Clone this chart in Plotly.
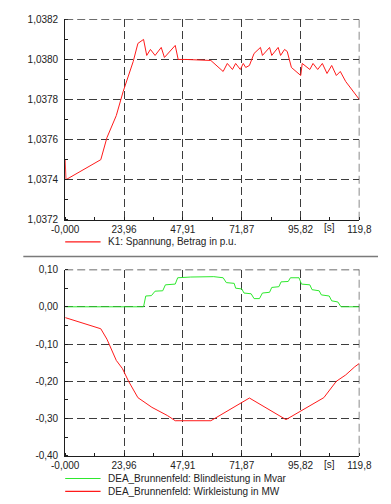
import plotly.graph_objects as go

W, H = 391, 504

# Time axis (seconds)
x_max = 119.775
x_tickvals = [0, 23.955, 47.91, 71.865, 95.82, 119.775]
x_ticktext = ["-0,000", "23,96", "47,91", "71,87", "95,82", "119,8"]

# K1 voltage magnitude (p.u.)
t_volt = [0, 0.3, 14.5, 17.0, 20.8, 23.6, 27.7, 29.6, 31.9, 33.2, 34.7, 36.6,
          39.1, 40.4, 44.8, 46.0, 49.2, 59.3, 64.3, 66.0, 68.1, 69.4, 71.3,
          72.5, 73.5, 75.0, 76.9, 79.5, 80.3, 83.2, 84.1, 86.7, 87.7, 89.3,
          90.4, 92.1, 95.9, 96.5, 99.6, 100.9, 102.8, 104.7, 106.6, 108.5,
          110.4, 112.0, 114.2, 119.775]
v_volt = [1.03750, 1.03740, 1.03750, 1.03761, 1.03772, 1.03784, 1.03799,
          1.03808, 1.03810, 1.03802, 1.03805, 1.03802, 1.03806, 1.03801,
          1.03807, 1.03800, 1.03800, 1.037995, 1.03794, 1.03798, 1.03795,
          1.03798, 1.03795, 1.03798, 1.03796, 1.03797, 1.03803, 1.03806,
          1.03802, 1.03806, 1.03802, 1.03806, 1.03802, 1.03805, 1.03804,
          1.03796, 1.03792, 1.03798, 1.03795, 1.03798, 1.03795, 1.03798,
          1.03793, 1.03797, 1.03792, 1.03794, 1.03789, 1.03780]
volt_ticks = [1.0372, 1.0374, 1.0376, 1.0378, 1.0380, 1.0382]
volt_ticktext = ["1,0372", "1,0374", "1,0376", "1,0378", "1,0380", "1,0382"]

# DEA_Brunnenfeld reactive power (Mvar)
t_q = [0, 31.9, 32.8, 35.1, 36.6, 39.7, 40.8, 44.8, 45.8, 51.1, 60.5, 64.3,
       65.6, 68.8, 69.4, 71.9, 72.8, 75.7, 76.9, 79.1, 80.3, 83.2, 84.1,
       87.0, 87.9, 90.8, 91.7, 95.2, 96.2, 99.6, 100.5, 103.4, 104.3, 107.5,
       108.5, 111.0, 112.3, 119.775]
q_mvar = [0, 0, 0.029, 0.030, 0.042, 0.043, 0.059, 0.061, 0.078, 0.080,
          0.081, 0.078, 0.065, 0.063, 0.050, 0.048, 0.037, 0.035, 0.022,
          0.022, 0.037, 0.039, 0.052, 0.054, 0.067, 0.068, 0.078, 0.078,
          0.061, 0.059, 0.046, 0.043, 0.032, 0.029, 0.016, 0.013, 0.0, 0.0]

# DEA_Brunnenfeld active power (MW)
t_p = [0, 14.5, 17.0, 20.8, 23.3, 25.8, 29.6, 35.3, 41.6, 44.8, 59.3, 75.0,
       89.9, 95.2, 105.3, 110.4, 114.2, 117.9, 119.775]
p_mw = [-0.029, -0.059, -0.087, -0.144, -0.166, -0.200, -0.244, -0.270,
        -0.292, -0.306, -0.306, -0.245, -0.303, -0.283, -0.244, -0.200,
        -0.183, -0.161, -0.152]
pw_ticks = [-0.4, -0.3, -0.2, -0.1, 0.0, 0.1]
pw_ticktext = ["-0,40", "-0,30", "-0,20", "-0,10", "0,00", "0,10"]

RED = "#ff1a1a"
GREEN = "#2ee82e"
GRID = "#3c3c3c"
AXIS = "#1e1e1e"
TXT = "#222222"
FONT = "Liberation Sans, Arial, sans-serif"


def px_x(p):
    return p / W


def px_y(p):
    return 1 - p / H


fig = go.Figure()
fig.add_trace(go.Scatter(x=t_volt, y=v_volt, mode="lines", xaxis="x", yaxis="y",
                         line=dict(color=RED, width=1), showlegend=False))
fig.add_trace(go.Scatter(x=t_q, y=q_mvar, mode="lines", xaxis="x2", yaxis="y2",
                         line=dict(color=GREEN, width=1), showlegend=False))
fig.add_trace(go.Scatter(x=t_p, y=p_mw, mode="lines", xaxis="x2", yaxis="y2",
                         line=dict(color=RED, width=1), showlegend=False))

xdom = [px_x(55), px_x(371)]


def xaxis(anchor):
    return dict(
        domain=xdom, anchor=anchor, range=[0, x_max],
        tickmode="array", tickvals=x_tickvals, ticktext=x_ticktext,
        ticks="", showline=True, linecolor=AXIS, linewidth=1,
        showgrid=True, gridcolor=GRID, gridwidth=1.2, griddash="8px,4px",
        zeroline=False, tickfont=dict(family=FONT, size=10, color=TXT),
        minor=dict(tickmode="linear", tick0=0, dtick=x_max / 10, ticks="inside",
                   ticklen=3, tickcolor=AXIS, tickwidth=1, showgrid=False),
        fixedrange=True,
    )


def yaxis(anchor, dom, rng, tv, tt, mdt):
    return dict(
        domain=dom, anchor=anchor, range=rng,
        tickmode="array", tickvals=tv, ticktext=tt,
        ticks="", showline=True, linecolor=AXIS, linewidth=1,
        showgrid=True, gridcolor=GRID, gridwidth=1.2, griddash="8px,4px",
        zeroline=False, tickfont=dict(family=FONT, size=10, color=TXT),
        ticklabelstandoff=4,
        minor=dict(tickmode="linear", tick0=rng[0], dtick=mdt, ticks="inside",
                   ticklen=3, tickcolor=AXIS, tickwidth=1, showgrid=False),
        fixedrange=True,
    )


shapes = []
annotations = []

# dashed frame edges on top and right of each panel
for xr, yr, ytop in (("x", "y", 1.0382), ("x2", "y2", 0.10)):
    shapes.append(dict(type="line", xref=xr, yref=yr, x0=0, x1=x_max, y0=ytop, y1=ytop,
                       line=dict(color=GRID, width=1.2, dash="8px,4px")))
    shapes.append(dict(type="line", xref=xr, yref=yr + " domain", x0=x_max, x1=x_max,
                       y0=0, y1=1, line=dict(color=GRID, width=1.2, dash="8px,4px")))

# unit label on the time axis
for xr, ypix in (("x", 227), ("x2", 470)):
    annotations.append(dict(x=107.8, xref=xr, y=px_y(ypix), yref="paper", text="[s]",
                            showarrow=False, xanchor="center", yanchor="middle",
                            font=dict(family=FONT, size=10, color=TXT)))

# separator between the two panels
shapes.append(dict(type="line", xref="paper", yref="paper", x0=px_x(10), x1=1,
                   y0=px_y(256.7), y1=px_y(256.7), line=dict(color="#7a7a7a", width=1.5)))

# legends
legend_rows = [
    (241.7, RED, "K1: Spannung, Betrag in p.u."),
    (484.0, GREEN, "DEA_Brunnenfeld: Blindleistung in Mvar"),
    (497.3, RED, "DEA_Brunnenfeld: Wirkleistung in MW"),
]
for ypix, col, label in legend_rows:
    shapes.append(dict(type="line", xref="paper", yref="paper", x0=px_x(55), x1=px_x(93),
                       y0=px_y(ypix), y1=px_y(ypix), line=dict(color=col, width=1.2)))
    annotations.append(dict(x=px_x(99), xref="paper", y=px_y(ypix), yref="paper",
                            text=label, showarrow=False, xanchor="left", yanchor="middle",
                            font=dict(family=FONT, size=10, color=TXT)))

fig.update_layout(
    width=W, height=H,
    margin=dict(l=0, r=0, t=0, b=0),
    paper_bgcolor="white", plot_bgcolor="white",
    xaxis=xaxis("y"),
    yaxis=yaxis("x", [px_y(219), px_y(13.7)], [1.0372, 1.0382], volt_ticks,
                volt_ticktext, 0.0001),
    xaxis2=xaxis("y2"),
    yaxis2=yaxis("x2", [px_y(460.7), px_y(270)], [-0.40, 0.10], pw_ticks,
                 pw_ticktext, 0.05),
    shapes=shapes,
    annotations=annotations,
    showlegend=False,
)

fig.write_html("out.html")
